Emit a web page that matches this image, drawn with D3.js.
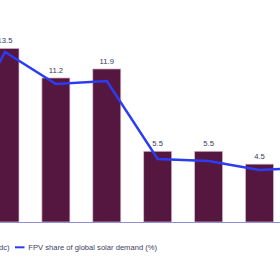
<!DOCTYPE html>
<html>
<head>
<meta charset="utf-8">
<script src="https://cdn.jsdelivr.net/npm/d3@7"></script>
<style>
  html, body { margin: 0; padding: 0; background: #fff; }
  svg { display: block; font-family: "Liberation Sans", Arial, sans-serif; }
</style>
</head>
<body>
<div id="chart"></div>
<script>
// chart values (view is cropped: first and last categories sit outside the frame)
const categories = ["2017", "2018", "2019", "2020", "2021", "2022", "2023", "2024"];
const demandGW = [8.0, 13.5, 11.2, 11.9, 5.5, 5.5, 4.5, 4.0];
const sharePct = [1.44, 3.4, 2.76, 2.82, 1.26, 1.22, 1.04, 1.09];
const labelFrom = 1, labelTo = 6;   // bars whose value labels are in view
const legendLabels = ["FPV demand (GWdc)", "FPV share of global solar demand (%)"];

const width = 280, height = 280;
const baseY = 222;

const svg = d3.select("#chart").append("svg")
  .attr("width", width)
  .attr("height", height);

// Step 1: scales
const step = 50.9;
const x = d3.scaleBand()
  .domain(categories)
  .range([5 - step * 1.5, 5 - step * 1.5 + step * categories.length])
  .paddingInner(0.45)
  .paddingOuter(0.225);

const y = d3.scaleLinear()
  .domain([0, 15])
  .range([baseY, baseY - 15 * 12.86]);

const y2 = d3.scaleLinear()
  .domain([0, 4])
  .range([baseY, baseY - 200]);

// Step 2: bars
svg.selectAll("rect.bar")
  .data(demandGW)
  .enter().append("rect")
  .attr("class", "bar")
  .attr("x", (d, i) => x(categories[i]))
  .attr("y", d => y(d))
  .attr("width", x.bandwidth())
  .attr("height", d => y(0) - y(d))
  .attr("fill", "#55173f")
  .attr("stroke", "#d9bcd0")
  .attr("stroke-width", 0.7);

// value labels
svg.selectAll("text.val")
  .data(demandGW.slice(labelFrom, labelTo + 1))
  .enter().append("text")
  .attr("class", "val")
  .attr("x", (d, i) => x(categories[i + labelFrom]) + x.bandwidth() / 2)
  .attr("y", d => y(d) - 5)
  .attr("text-anchor", "middle")
  .attr("font-size", "7.7px")
  .attr("fill", "#3a3a58")
  .text(d => d.toFixed(1));

// Step 3: x axis line (no ticks)
const xAxis = d3.axisBottom(x).tickSize(0).tickFormat("");
svg.append("g")
  .attr("transform", "translate(0," + (baseY + 0.5) + ")")
  .call(xAxis)
  .call(g => g.select(".domain").attr("stroke", "#8f8fcf").attr("d", "M0,0H" + width));

// Step 4: share line
const line = d3.line()
  .x((d, i) => x(categories[i]) + x.bandwidth() / 2)
  .y(d => y2(d));

svg.append("path")
  .datum(sharePct)
  .attr("d", line)
  .attr("fill", "none")
  .attr("stroke", "#2b3cf2")
  .attr("stroke-width", 2.4)
  .attr("stroke-linejoin", "miter");

// Step 5: legend
const legY = 250;
svg.append("rect")
  .attr("x", -20).attr("y", legY - 7)
  .attr("width", 7).attr("height", 7)
  .attr("fill", "#55173f");
svg.append("text")
  .attr("x", 9.5).attr("y", legY)
  .attr("text-anchor", "end")
  .attr("font-size", "7.6px")
  .attr("fill", "#40405f")
  .text(legendLabels[0]);
svg.append("line")
  .attr("x1", 15).attr("x2", 24.5)
  .attr("y1", legY - 2.7).attr("y2", legY - 2.7)
  .attr("stroke", "#2b3cf2")
  .attr("stroke-width", 2);
svg.append("text")
  .attr("x", 28.3).attr("y", legY)
  .attr("font-size", "7.6px")
  .attr("fill", "#40405f")
  .text(legendLabels[1]);
</script>
</body>
</html>
